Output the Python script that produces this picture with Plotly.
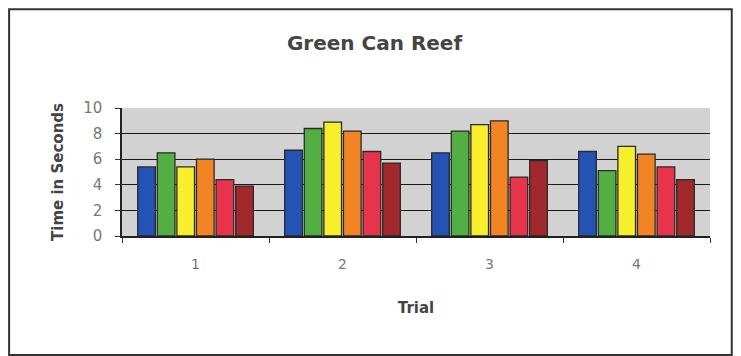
import plotly.graph_objects as go

trials = ["1", "2", "3", "4"]
series_names = ["Swimmer 1", "Swimmer 2", "Swimmer 3", "Swimmer 4", "Swimmer 5", "Swimmer 6"]
s1 = [5.4, 6.7, 6.5, 6.6]
s2 = [6.5, 8.4, 8.2, 5.1]
s3 = [5.4, 8.9, 8.7, 7.0]
s4 = [6.0, 8.2, 9.0, 6.4]
s5 = [4.4, 6.6, 4.6, 5.4]
s6 = [3.9, 5.7, 5.9, 4.4]
colors = ["#2354b4", "#52b043", "#f7ef2a", "#f38424", "#e8344a", "#a1292c"]

fig = go.Figure()
for name, vals, col in zip(series_names, [s1, s2, s3, s4, s5, s6], colors):
    fig.add_trace(go.Bar(x=trials, y=vals, name=name,
                         marker=dict(color=col, line=dict(color="#2a2a2a", width=1.3)),
                         showlegend=False))

fig.update_layout(
    width=733, height=348,
    margin=dict(l=114, r=31, t=100, b=120),
    paper_bgcolor="white",
    plot_bgcolor="#d2d2d2",
    barmode="group", bargap=0.2, bargroupgap=0.1,
    title=dict(text="<b>Green Can Reef</b>", x=0.5, xanchor="center", y=0.9, yanchor="middle",
               font=dict(family="DejaVu Sans", size=20, color="#444444")),
    font=dict(family="DejaVu Sans", color="#555555"),
)
fig.update_xaxes(type="category", tickson="boundaries", ticks="outside", ticklen=5, tickcolor="#333",
                 showline=True, linecolor="#222", linewidth=1.5, showgrid=False,
                 ticklabelstandoff=14,
                 tickfont=dict(size=14, color="#777777"),
                 title=dict(text="<b>Trial</b>", font=dict(size=15, color="#444444"), standoff=32))
fig.update_yaxes(range=[0, 10], dtick=2, ticks="outside", ticklen=5, tickcolor="#333",
                 showline=True, linecolor="#222", linewidth=1.5,
                 showgrid=True, gridcolor="#1a1a1a", gridwidth=1.2, zeroline=False,
                 ticklabelstandoff=10,
                 tickfont=dict(size=15, color="#777777"),
                 title=dict(text="<b>Time in Seconds</b>", font=dict(size=15, color="#444444"), standoff=16))

fig.add_shape(type="rect", xref="paper", yref="paper", x0=-0.192, x1=1.037, y0=-0.93, y1=1.772,
              line=dict(color="#333333", width=2), fillcolor="rgba(0,0,0,0)", layer="below")

fig.write_html("out.html")
